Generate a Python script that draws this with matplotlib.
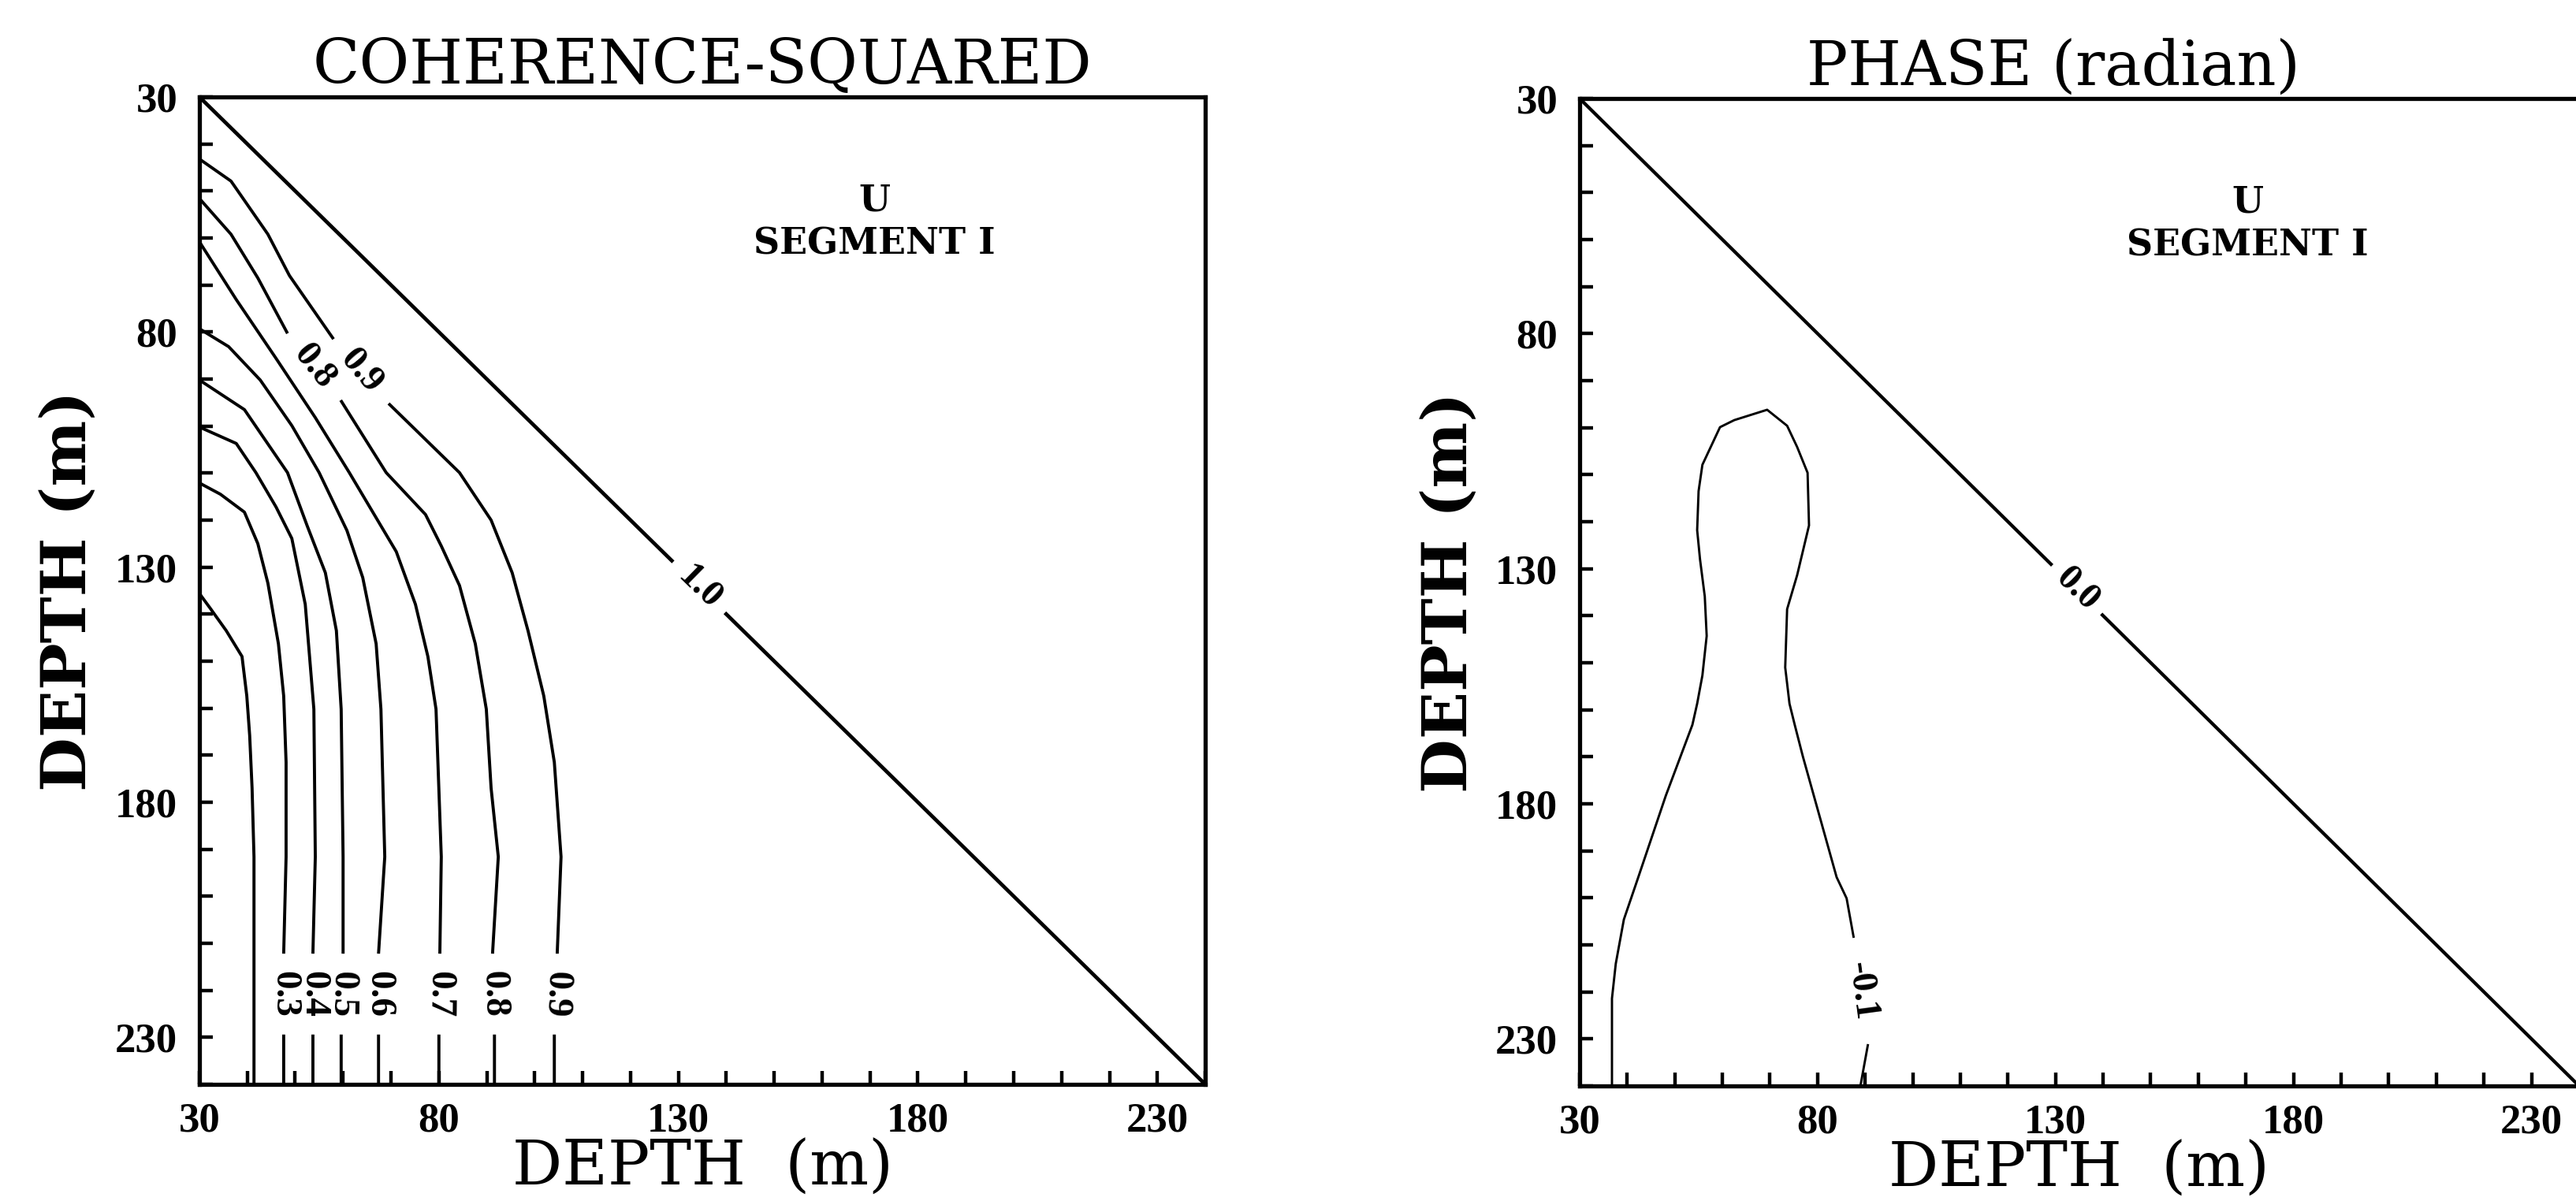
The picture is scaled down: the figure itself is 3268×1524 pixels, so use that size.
import matplotlib.pyplot as plt
import numpy as np
from matplotlib.ticker import MultipleLocator

nan = np.nan

# depth range shared by both axes (m)
DEPTH_MIN, DEPTH_MAX = 30, 240
MAJOR_TICKS = [30, 80, 130, 180, 230]

# coherence-squared contours (nan = gap for the label)
coh_02_x = [30.0, 32.3, 35.6, 38.9, 39.9, 40.5, 41.0, 41.4, 41.4]
coh_02_y = [135.6, 138.8, 143.5, 149.0, 157.4, 165.8, 177.0, 191.6, 240.0]

coh_03_x = [30.0, 34.4, 39.4, 42.2, 44.3, 46.5, 47.6, 48.1, 48.1, 47.6, nan, 47.6, 47.6]
coh_03_y = [112.1, 114.5, 118.3, 125.0, 133.4, 146.3, 157.4, 171.5, 191.6, 212.2, nan, 229.4, 240.0]

coh_04_x = [30.0, 37.7, 41.8, 46.0, 49.3, 52.1, 53.0, 53.9, 54.2, 53.7, nan, 53.7, 53.7]
coh_04_y = [100.2, 103.7, 109.9, 117.2, 123.9, 137.9, 149.0, 160.2, 191.6, 212.2, nan, 229.4, 240.0]

coh_05_x = [30.0, 39.4, 48.4, 52.5, 56.3, 58.6, 59.6, 60.0, 60.0, nan, 59.6, 59.6]
coh_05_y = [90.2, 96.5, 109.9, 121.2, 131.2, 143.5, 160.2, 191.6, 212.2, nan, 229.4, 240.0]

coh_06_x = [30.0, 36.1, 42.7, 49.3, 55.0, 60.8, 64.1, 66.9, 67.9, 68.7, 67.4, nan, 67.4, 67.4]
coh_06_y = [79.3, 83.1, 90.2, 99.9, 109.9, 122.2, 132.2, 146.3, 160.2, 191.6, 212.2, nan, 229.4, 240.0]

coh_07_x = [30.0, 37.7, 46.0, 54.2, 61.3, 71.1, 75.1, 77.7, 79.4, 80.5, 80.2, nan, 80.0, 80.0]
coh_07_y = [60.8, 73.1, 85.6, 98.2, 109.9, 126.7, 137.9, 149.0, 160.2, 191.6, 212.2, nan, 229.4, 240.0]

coh_08_x = [30.0, 36.6, 42.2, 48.4, nan, 59.5, 69.0, 77.2, 80.5, 84.3, 87.6, 89.9, 90.9, 92.4, 91.2, nan, 91.6, 91.6]
coh_08_y = [51.6, 59.2, 68.5, 80.3, nan, 94.5, 109.9, 118.8, 125.5, 133.9, 146.3, 160.2, 177.0, 191.6, 212.2, nan, 229.4, 240.0]

coh_09_x = [30.0, 36.6, 44.3, 48.8, 58.0, nan, 69.5, 84.3, 90.9, 95.3, 98.6, 101.9, 104.1, 105.5, 104.7, nan, 104.1, 104.1]
coh_09_y = [43.2, 47.9, 59.2, 68.0, 81.5, nan, 95.2, 109.9, 120.0, 131.2, 143.5, 157.4, 171.5, 191.6, 212.2, nan, 229.4, 240.0]

coh_10_x = [30.0, 128.9, nan, 139.7, 240.0]
coh_10_y = [30.0, 128.9, nan, 139.7, 240.0]

# phase contours
ph_m01_x = [36.8, 36.8, 37.6, 39.3, 42.1, 48.1, 53.7, 54.7, 55.8, 56.7, 56.3, 55.3, 54.7, 55.0, 55.8,
            59.5, 62.5, 69.4, 73.6, 75.7, 77.9, 78.2, 77.4, 75.7, 73.6, 73.2, 74.1, 75.2, 76.9, 84.0,
            86.1, 87.6, nan, 90.6, 89.0]
ph_m01_y = [240.0, 221.4, 214.0, 204.6, 196.3, 178.3, 163.2, 158.7, 152.7, 144.3, 135.9, 128.0, 121.8,
            113.5, 107.9, 99.9, 98.4, 96.2, 99.6, 104.1, 109.6, 120.8, 124.2, 131.4, 138.6, 151.0,
            158.7, 163.2, 169.9, 195.6, 200.1, 208.5, nan, 231.1, 240.0]

ph_00_x = [30.0, 129.3, nan, 139.6, 240.0]
ph_00_y = [30.0, 129.3, nan, 139.6, 240.0]

coh_lines = [
    ("0.2", coh_02_x, coh_02_y, 2.8),
    ("0.3", coh_03_x, coh_03_y, 2.8),
    ("0.4", coh_04_x, coh_04_y, 2.8),
    ("0.5", coh_05_x, coh_05_y, 2.8),
    ("0.6", coh_06_x, coh_06_y, 2.8),
    ("0.7", coh_07_x, coh_07_y, 2.8),
    ("0.8", coh_08_x, coh_08_y, 2.8),
    ("0.9", coh_09_x, coh_09_y, 2.8),
    ("1.0", coh_10_x, coh_10_y, 3.4),
]
ph_lines = [
    ("-0.1", ph_m01_x, ph_m01_y, 2.1),
    ("0.0", ph_00_x, ph_00_y, 3.1),
]

SERIF = "DejaVu Serif"
NUMS = "Liberation Serif"


def style_axes(ax, title, title_x):
    ax.set_xlim(DEPTH_MIN, DEPTH_MAX)
    ax.set_ylim(DEPTH_MAX, DEPTH_MIN)
    ax.set_xticks(MAJOR_TICKS)
    ax.set_yticks(MAJOR_TICKS)
    ax.xaxis.set_minor_locator(MultipleLocator(10))
    ax.yaxis.set_minor_locator(MultipleLocator(10))
    ax.tick_params(which="both", direction="in", length=12, width=3.2,
                   top=False, right=False)
    ax.tick_params(axis="x", pad=16)
    ax.tick_params(axis="y", pad=20)
    for lab in ax.get_xticklabels() + ax.get_yticklabels():
        lab.set_fontfamily(NUMS)
        lab.set_fontweight("bold")
        lab.set_fontsize(38)
    for sp in ax.spines.values():
        sp.set_linewidth(3.8)
    ax.set_title(title, fontsize=56, family=SERIF, pad=12, x=title_x)
    ax.set_xlabel("DEPTH  (m)", fontsize=57, family=SERIF, va="baseline")
    ax.xaxis.set_label_coords(0.5, -0.102)
    ax.set_ylabel("DEPTH (m)", fontsize=57, family=SERIF, weight="bold",
                  va="baseline", ha="center", rotation_mode="anchor")
    ax.yaxis.set_label_coords(-0.112, 0.5)


def draw_lines(ax, lines):
    for text, xs, ys, lw in lines:
        ax.plot(xs, ys, color="black", lw=lw, solid_capstyle="butt")


def label_gaps(ax, lines):
    for text, xs, ys, lw in lines:
        xs = np.asarray(xs, float)
        ys = np.asarray(ys, float)
        for i in np.flatnonzero(np.isnan(xs)):
            x0, y0, x1, y1 = xs[i - 1], ys[i - 1], xs[i + 1], ys[i + 1]
            p0 = ax.transData.transform((x0, y0))
            p1 = ax.transData.transform((x1, y1))
            ang = np.degrees(np.arctan2(p1[1] - p0[1], p1[0] - p0[0]))
            ax.text((x0 + x1) / 2, (y0 + y1) / 2, text, rotation=ang,
                    rotation_mode="anchor", ha="center", va="center",
                    family=NUMS, weight="bold", fontsize=34)


fig = plt.figure(figsize=(32.68, 15.24), dpi=100)
ax1 = fig.add_axes([0.0774, 0.0971, 0.3905, 0.8222])
ax2 = fig.add_axes([0.6132, 0.0958, 0.3880, 0.8222])

style_axes(ax1, "COHERENCE-SQUARED", 0.5)
style_axes(ax2, "PHASE (radian)", 0.474)
ax2.spines["right"].set_visible(False)

draw_lines(ax1, coh_lines)
draw_lines(ax2, ph_lines)
label_gaps(ax1, coh_lines)
label_gaps(ax2, ph_lines)

for ax, xc in [(ax1, 170.9), (ax2, 170.4)]:
    ax.text(xc, 54.2, "U", ha="center", va="baseline", family=SERIF,
            weight="bold", fontsize=33)
    ax.text(xc, 63.4, "SEGMENT I", ha="center", va="baseline", family=SERIF,
            weight="bold", fontsize=33)

fig.savefig("out.png", dpi=100)
